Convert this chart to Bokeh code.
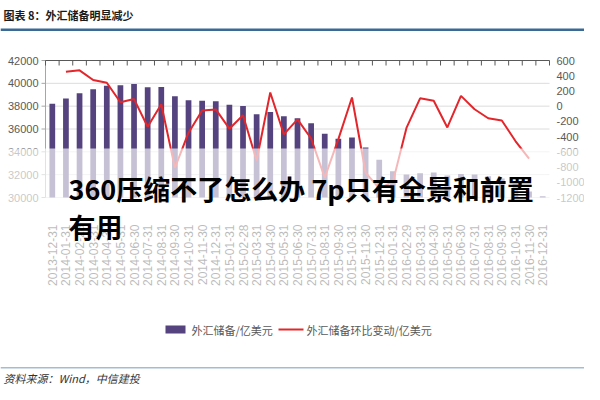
import math
import numpy as np
from bokeh.plotting import figure
from bokeh.models import Range1d
from bokeh.core.properties import value
from bokeh.embed import file_html
from bokeh.resources import INLINE

# ---------------- data ----------------
dates = ["2013-12-31", "2014-01-31", "2014-02-28", "2014-03-31", "2014-04-30", "2014-05-31",
         "2014-06-30", "2014-07-31", "2014-08-31", "2014-09-30", "2014-10-31", "2014-11-30",
         "2014-12-31", "2015-01-31", "2015-02-28", "2015-03-31", "2015-04-30", "2015-05-31",
         "2015-06-30", "2015-07-31", "2015-08-31", "2015-09-30", "2015-10-31", "2015-11-30",
         "2015-12-31", "2016-01-31", "2016-02-29", "2016-03-31", "2016-04-30", "2016-05-31",
         "2016-06-30", "2016-07-31", "2016-08-31", "2016-09-30", "2016-10-31", "2016-11-30",
         "2016-12-31"]
reserves = [38213, 38666, 39137, 39481, 39788, 39839, 39932, 39662, 39688, 38877, 38529, 38473,
            38430, 38134, 38015, 37301, 37481, 37111, 36938, 36513, 35574, 35141, 35255, 34383,
            33304, 32309, 32023, 32126, 32197, 31917, 32052, 32011, 31852, 31664, 31206, 30516,
            30105]
changes = [np.nan, 453, 471, 344, 307, 51, 93, -270, 26, -811, -348, -56,
           -43, -296, -119, -714, 180, -370, -173, -425, -939, -433, 114, -872,
           -1079, -995, -286, 103, 71, -280, 135, -41, -159, -188, -458, -690,
           np.nan]
left_ticks = [30000, 32000, 34000, 36000, 38000, 40000, 42000]
right_ticks = [-1200, -1000, -800, -600, -400, -200, 0, 200, 400, 600]

title_text = "图表 8：外汇储备明显减少"
source_text = "资料来源：Wind，中信建投"
legend_labels = ["外汇储备/亿美元", "外汇储备环比变动/亿美元"]
wm_line1 = "360压缩不了怎么办 7p只有全景和前置"
wm_line2 = "有用"

# ---------------- layout (canvas pixels) ----------------
W, H = 584, 384
FL, FR, FT, FB = 45, 549, 60, 197      # plotting area edges on the canvas
n = len(dates)
idx = list(range(n))

cw = (FR - FL) / n
x_start = -0.5 - FL / cw
x_end = x_start + W / cw

lo, hi = left_ticks[0], left_ticks[-1]
ppu = (FB - FT) / (hi - lo)
y_start = lo - (H - FB) / ppu
y_end = hi + FT / ppu

rlo, rhi = right_ticks[0], right_ticks[-1]
rppu = (FB - FT) / (rhi - rlo)
r_start = rlo - (H - FB) / rppu
r_end = rhi + FT / rppu

p = figure(width=W, height=H, output_backend="svg", toolbar_location=None,
           x_range=Range1d(x_start, x_end), y_range=Range1d(y_start, y_end),
           x_axis_type=None, y_axis_type=None,
           min_border=0, min_border_left=0, min_border_right=0,
           min_border_top=0, min_border_bottom=0)
p.extra_y_ranges = {"chg": Range1d(r_start, r_end), "cy": Range1d(H, 0)}
p.extra_x_ranges = {"cx": Range1d(0, W)}
p.outline_line_color = None
p.background_fill_color = "white"
p.border_fill_color = "white"
p.xgrid.visible = False
p.ygrid.visible = False

AX = "Liberation Sans"
CJK = "Noto Sans CJK SC"
first, last = idx[0] - 0.5, idx[-1] + 0.5

# horizontal grid lines
p.segment(x0=first, x1=last, y0=left_ticks, y1=left_ticks, line_color="#dcdcdc", line_width=1)

# bars and line
p.vbar(x=idx, top=reserves, bottom=lo, width=0.42, fill_color="#54437e", line_color=None)
p.line(x=idx, y=np.array(changes, dtype=float), y_range_name="chg",
       line_color="#e3262b", line_width=2)

# left axis
p.segment(x0=FL, x1=FL, y0=lo, y1=hi, x_range_name="cx", line_color="#a6a6a6", line_width=1)
p.segment(x0=FL - 4, x1=FL, y0=left_ticks, y1=left_ticks, x_range_name="cx",
          line_color="#a6a6a6", line_width=1)
p.text(x=FL - 7, y=left_ticks, text=[str(t) for t in left_ticks], x_range_name="cx",
       text_align="right", text_baseline="middle", text_font=value(AX),
       text_font_size=value("11px"), text_color="#595959")

# right axis labels
p.text(x=FR + 7, y=right_ticks, text=[str(t) for t in right_ticks], x_range_name="cx",
       y_range_name="chg", text_align="left", text_baseline="middle", text_font=value(AX),
       text_font_size=value("11px"), text_color="#595959")

# top axis with category-boundary ticks
bounds = [i - 0.5 for i in range(n + 1)]
p.segment(x0=first, x1=last, y0=FT, y1=FT, y_range_name="cy", line_color="#595959", line_width=1)
p.segment(x0=bounds, x1=bounds, y0=FT, y1=FT + 5, y_range_name="cy",
          line_color="#595959", line_width=1)

# bottom (date) labels
p.text(x=idx, y=FB + 27, text=dates, y_range_name="cy", angle=math.pi / 2,
       text_align="right", text_baseline="middle", text_font=value(AX),
       text_font_size=value("12px"), text_color="#333333")

# white overlay band
p.quad(left=0, right=W, top=148, bottom=305, x_range_name="cx", y_range_name="cy",
       fill_color="white", fill_alpha=0.67, line_color=None)

# watermark text
p.text(x=68, y=[188, 226], text=[wm_line1, wm_line2], x_range_name="cx", y_range_name="cy",
       text_align="left", text_baseline="middle", text_font=value(CJK),
       text_font_style="bold", text_font_size=value("27px"), text_color="#000000")

# title and rules
p.text(x=3, y=14, text=[title_text], x_range_name="cx", y_range_name="cy",
       text_align="left", text_baseline="middle", text_font=value(CJK),
       text_font_style="bold", text_font_size=value("11px"), text_color="#1a1a1a")
p.quad(left=0, right=W, top=28, bottom=30.5, x_range_name="cx", y_range_name="cy",
       fill_color="#3a6a94", line_color=None)
p.quad(left=0, right=W, top=366.5, bottom=368, x_range_name="cx", y_range_name="cy",
       fill_color="#a3bcd4", line_color=None)
p.text(x=3, y=377, text=[source_text], x_range_name="cx", y_range_name="cy",
       text_align="left", text_baseline="middle", text_font=value(CJK),
       text_font_style="italic", text_font_size=value("11px"), text_color="#333333")

# legend
p.quad(left=165, right=185, top=325, bottom=333, x_range_name="cx", y_range_name="cy",
       fill_color="#54437e", line_color=None)
p.segment(x0=278, x1=303, y0=329, y1=329, x_range_name="cx", y_range_name="cy",
          line_color="#e3262b", line_width=2)
p.text(x=[191, 306], y=329, text=legend_labels, x_range_name="cx", y_range_name="cy",
       text_align="left", text_baseline="middle", text_font=value(CJK),
       text_font_size=value("11px"), text_color="#595959")

open("out.html", "w").write(file_html(p, INLINE))
